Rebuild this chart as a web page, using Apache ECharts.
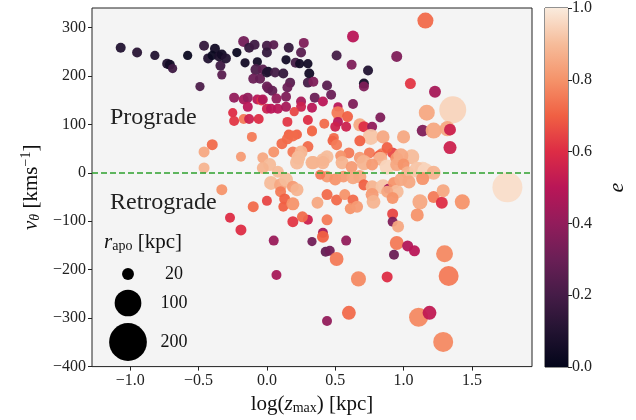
<!DOCTYPE html>
<html>
<head>
<meta charset="utf-8">
<script src="https://cdn.jsdelivr.net/npm/echarts@6/dist/echarts.min.js"></script>
<style>
  html, body { margin: 0; padding: 0; background: #fff; }
  #chart { width: 636px; height: 420px; }
</style>
</head>
<body>
<div id="chart"></div>
<script>
// log(z_max) [kpc]
const logZmax = [
  -1.07,-0.95,-0.82,-0.73,-0.71,-0.69,-0.58,-0.49,-0.46,-0.43,
  -0.38,-0.40,-0.35,-0.33,-0.34,-0.33,-0.30,-0.22,-0.17,-0.16,
  -0.13,-0.09,-0.07,-0.08,-0.03,-0.10,-0.05,0.01,0.00,0.00,
  0.05,0.00,0.16,0.27,0.25,0.14,0.21,0.24,0.30,0.51,
  0.62,0.95,0.00,0.06,0.12,0.31,0.74,0.17,0.15,0.30,
  0.34,0.44,0.71,0.71,1.05,0.01,0.04,0.63,1.16,1.23,
  -0.24,-0.17,-0.14,-0.14,-0.07,-0.04,-0.03,-0.25,-0.24,-0.17,
  -0.13,-0.06,-0.11,0.00,0.07,0.14,0.25,0.35,0.41,0.47,
  0.03,0.08,0.14,0.25,0.33,0.20,0.52,0.63,0.52,0.59,
  0.83,0.15,0.30,0.42,0.52,0.58,0.33,0.68,0.71,0.77,
  0.16,0.22,0.49,0.76,0.85,1.00,1.17,1.36,1.14,1.22,
  1.32,1.34,1.34,0.68,0.50,0.48,0.51,1.06,0.92,0.84,
  0.88,0.95,0.98,0.75,0.82,0.83,1.14,1.76,0.60,0.54,
  0.55,0.44,0.41,0.34,0.68,0.71,0.88,0.95,1.00,0.77,
  0.62,1.03,1.10,1.16,1.22,1.14,0.44,0.50,0.56,0.63,
  0.68,0.71,0.77,0.85,0.89,0.93,0.95,0.98,1.04,1.12,
  1.22,1.28,1.29,1.43,0.44,0.51,0.57,0.63,0.77,0.78,
  0.88,0.92,0.61,0.66,0.92,0.92,0.96,1.10,0.44,-0.40,
  -0.46,-0.19,-0.46,0.11,0.15,0.19,0.30,0.33,0.05,0.19,
  0.25,0.23,0.22,-0.03,0.02,-0.03,0.08,0.33,0.41,0.39,
  0.03,0.10,0.14,0.19,0.22,0.10,0.13,0.12,0.00,-0.10,
  -0.33,0.19,0.37,-0.27,-0.19,0.19,0.30,0.26,0.05,0.07,
  0.33,0.41,0.41,0.43,0.46,0.51,0.58,0.67,0.60,0.44,
  0.95,1.03,1.08,0.93,1.30,1.33,0.88,1.11,1.19,1.29
];
// v_theta [km/s]
const vTheta = [
  258,248,242,225,223,215,242,178,262,236,
  256,242,240,244,221,202,236,248,271,227,
  258,264,229,213,213,194,194,209,178,262,
  264,248,258,268,248,233,227,225,225,242,
  223,240,207,207,205,205,211,186,176,186,
  188,180,184,178,184,174,169,281,314,167,
  155,151,155,136,151,149,151,124,107,111,
  111,111,74,132,153,157,147,155,147,161,
  132,132,136,136,134,126,136,142,124,116,
  114,105,109,101,105,95,87,99,95,95,
  79,79,72,74,74,74,124,130,87,87,
  91,89,52,66,95,66,58,33,41,39,
  52,29,35,41,35,29,6,-30,41,35,
  21,33,27,21,31,21,12,17,17,17,
  12,0,6,2,0,-12,-8,-14,-8,-10,
  -8,-25,-29,-29,-33,-21,-39,-14,-19,-60,
  -50,-62,-37,-60,-45,-56,-45,-56,-45,-60,
  -39,-52,-74,-70,-85,-101,-111,-87,-97,58,
  43,33,10,60,70,76,54,85,43,43,
  43,31,21,31,17,10,2,21,21,-4,
  -21,-25,-14,-29,-35,-39,-54,-70,-58,-70,
  -35,-64,-62,-93,-118,-101,-97,-91,-140,-211,
  -142,-124,-132,-163,-161,-178,-140,-219,-289,-306,
  -145,-151,-161,-169,-167,-213,-215,-298,-289,-349
];
// eccentricity e
const ecc = [
  0.10,0.12,0.10,0.10,0.05,0.18,0.03,0.22,0.15,0.10,
  0.05,0.03,0.08,0.05,0.18,0.25,0.10,0.03,0.32,0.05,
  0.15,0.18,0.05,0.22,0.25,0.30,0.28,0.05,0.30,0.20,
  0.25,0.15,0.15,0.35,0.25,0.05,0.20,0.05,0.05,0.20,
  0.35,0.35,0.10,0.20,0.15,0.05,0.10,0.25,0.30,0.20,
  0.35,0.25,0.05,0.35,0.62,0.30,0.28,0.50,0.72,0.45,
  0.40,0.45,0.40,0.50,0.50,0.62,0.48,0.60,0.62,0.75,
  0.55,0.60,0.75,0.55,0.40,0.35,0.45,0.30,0.50,0.30,
  0.50,0.50,0.45,0.55,0.50,0.65,0.50,0.35,0.75,0.70,
  0.35,0.62,0.60,0.72,0.50,0.55,0.72,0.85,0.60,0.40,
  0.70,0.70,0.72,0.92,0.85,0.85,0.85,0.95,0.35,0.85,
  0.85,0.55,0.55,0.70,0.55,0.70,0.75,0.90,0.65,0.75,
  0.70,0.80,0.85,0.75,0.70,0.88,0.95,0.97,0.75,0.80,
  0.88,0.90,0.90,0.88,0.82,0.88,0.95,0.85,0.80,0.82,
  0.82,0.88,0.92,0.95,0.88,0.80,0.82,0.80,0.82,0.85,
  0.85,0.70,0.88,0.92,0.45,0.80,0.90,0.85,0.85,0.85,
  0.75,0.60,0.85,0.80,0.72,0.72,0.80,0.72,0.82,0.88,
  0.85,0.80,0.80,0.82,0.65,0.35,0.85,0.80,0.75,0.72,
  0.85,0.82,0.88,0.72,0.72,0.72,0.72,0.72,0.80,0.75,
  0.88,0.90,0.90,0.85,0.90,0.88,0.90,0.88,0.88,0.75,
  0.90,0.85,0.90,0.82,0.88,0.75,0.70,0.70,0.65,0.72,
  0.80,0.80,0.85,0.60,0.60,0.62,0.55,0.72,0.42,0.45,
  0.32,0.45,0.70,0.28,0.32,0.75,0.40,0.78,0.72,0.40,
  0.75,0.48,0.50,0.30,0.78,0.75,0.60,0.78,0.52,0.78
];
// r_apo [kpc]
const rApo = [
  14,14,12,14,14,12,12,12,14,14,
  14,12,14,14,14,12,14,12,17,12,
  14,14,12,17,14,14,14,12,14,14,
  12,14,14,14,14,12,14,12,12,14,
  14,17,14,14,14,14,14,14,14,14,
  14,14,14,14,17,14,14,20,36,20,
  14,14,14,14,14,14,14,12,14,14,
  14,14,14,14,14,14,14,14,14,14,
  14,14,14,14,14,12,12,14,24,17,
  14,14,14,14,14,14,14,24,17,14,
  14,14,14,36,24,24,36,102,20,36,
  32,20,24,17,14,14,17,32,17,17,
  17,24,32,17,17,27,36,126,17,17,
  24,24,24,24,20,32,32,24,20,20,
  20,24,36,40,27,24,20,20,20,24,
  24,17,24,32,14,20,27,24,24,32,
  20,20,24,32,17,17,17,17,24,27,
  20,20,17,20,17,14,20,24,17,17,
  17,14,17,17,17,17,17,14,17,17,
  24,27,27,17,24,20,20,24,24,14,
  27,24,27,20,24,17,17,14,14,17,
  17,24,20,14,17,17,14,17,14,14,
  12,14,20,14,14,27,14,32,27,14,
  27,17,17,14,40,56,17,51,27,56
];
const xTicks = [-1.0, -0.5, 0.0, 0.5, 1.0, 1.5];
const yTicks = [-400, -300, -200, -100, 0, 100, 200, 300];
const sizeLegend = [20, 100, 200];

// rocket colormap
const rocket = ['#03051a', '#221331', '#451c47', '#6a1f56', '#921c5b', '#b91657',
  '#dd2c45', '#f06043', '#f5936a', '#f6bc9a', '#faebdd'];

const serif = '"Liberation Serif", "DejaVu Serif", serif';
const sizeOf = (r) => 2.67 * Math.sqrt(r);
const minus = (s) => s.replace('-', '\u2212');

const points = logZmax.map((x, i) => [x, vTheta[i], ecc[i], rApo[i]]);

const chart = echarts.init(document.getElementById('chart'));

// legende fuer r_apo
const legendX = 128;
const legendY = [274, 303, 342];
const graphics = [
  { type: 'text', left: 110, top: 106, style: { text: 'Prograde', font: '24px ' + serif, fill: '#222' } },
  { type: 'text', left: 110, top: 191, style: { text: 'Retrograde', font: '24px ' + serif, fill: '#222' } },
  {
    type: 'text', left: 104, top: 232,
    style: {
      text: '{i|r}{s|apo}{n| [kpc]}',
      rich: {
        i: { fontFamily: serif, fontSize: 21, fontStyle: 'italic', fill: '#111' },
        s: { fontFamily: serif, fontSize: 14, fill: '#111', padding: [8, 0, 0, 0] },
        n: { fontFamily: serif, fontSize: 21, fill: '#111' }
      }
    }
  }
];
sizeLegend.forEach((v, i) => {
  graphics.push({ type: 'circle', shape: { cx: legendX, cy: legendY[i], r: sizeOf(v) / 2 }, style: { fill: '#000' } });
  graphics.push({
    type: 'text', x: 174, y: legendY[i],
    style: { text: String(v), font: '18px ' + serif, fill: '#111', align: 'center', verticalAlign: 'middle' }
  });
});

chart.setOption({
  animation: false,
  textStyle: { fontFamily: serif },
  grid: [
    { left: 92, right: 104, top: 8, bottom: 53, show: true, backgroundColor: '#f4f4f4', borderColor: '#222', borderWidth: 1 },
    { left: 545, width: 23, top: 8, bottom: 53, show: true, borderColor: '#222', borderWidth: 1 }
  ],
  xAxis: [
    {
      type: 'value', gridIndex: 0, min: -1.28, max: 1.94,
      splitLine: { show: false }, axisLine: { show: false, onZero: false },
      axisTick: { show: true, length: 4, customValues: xTicks, lineStyle: { color: '#222' } },
      axisLabel: { customValues: xTicks, color: '#222', fontSize: 16, fontFamily: serif, margin: 6,
        formatter: (v) => minus(v.toFixed(1)) },
      name: '{n|log(}{i|z}{s|max}{n|) [kpc]}',
      nameLocation: 'middle', nameGap: 22,
      nameTextStyle: {
        rich: {
          n: { fontFamily: serif, fontSize: 21, color: '#111' },
          i: { fontFamily: serif, fontSize: 21, fontStyle: 'italic', color: '#111' },
          s: { fontFamily: serif, fontSize: 14, color: '#111', padding: [8, 0, 0, 0] }
        }
      }
    },
    { type: 'category', gridIndex: 1, data: [''], show: false }
  ],
  yAxis: [
    {
      type: 'value', gridIndex: 0, min: -400, max: 340, interval: 100,
      splitLine: { show: false }, axisLine: { show: false, onZero: false },
      axisTick: { show: true, length: 4, customValues: yTicks, lineStyle: { color: '#222' } },
      axisLabel: { customValues: yTicks, color: '#222', fontSize: 16, fontFamily: serif, margin: 6,
        formatter: (v) => minus(String(v)) },
      name: '{i|v}{s|θ}{n| [kms}{p|−1}{n|]}',
      nameLocation: 'middle', nameGap: 39, nameRotate: 90,
      nameTextStyle: {
        rich: {
          n: { fontFamily: serif, fontSize: 21, color: '#111' },
          i: { fontFamily: serif, fontSize: 21, fontStyle: 'italic', color: '#111' },
          s: { fontFamily: serif, fontSize: 14, fontStyle: 'italic', color: '#111', padding: [8, 0, 0, 0] },
          p: { fontFamily: serif, fontSize: 14, color: '#111', padding: [0, 0, 10, 0] }
        }
      }
    },
    {
      type: 'value', gridIndex: 1, position: 'right', min: 0, max: 1, interval: 0.2,
      splitLine: { show: false }, axisLine: { show: false, onZero: false },
      axisTick: { show: true, length: 4, lineStyle: { color: '#222' } },
      axisLabel: { color: '#222', fontSize: 16, fontFamily: serif, margin: 4, formatter: (v) => v.toFixed(1) },
      name: 'e', nameLocation: 'middle', nameGap: 38, nameRotate: 90,
      nameTextStyle: { fontFamily: serif, fontSize: 22, fontStyle: 'italic', color: '#111' }
    }
  ],
  visualMap: {
    show: false, seriesIndex: 0, dimension: 2, min: 0, max: 1,
    inRange: { color: rocket }
  },
  graphic: graphics,
  series: [
    {
      type: 'scatter',
      xAxisIndex: 0, yAxisIndex: 0,
      data: points,
      symbolSize: (d) => sizeOf(d[3]),
      itemStyle: { opacity: 0.95 },
      markLine: {
        silent: true, symbol: 'none', label: { show: false },
        lineStyle: { color: '#2ca02c', type: [6, 3], width: 1.6 },
        data: [{ yAxis: 0 }]
      }
    },
    {
      type: 'bar', xAxisIndex: 1, yAxisIndex: 1, silent: true,
      data: [1], barWidth: '100%',
      itemStyle: {
        color: new echarts.graphic.LinearGradient(0, 1, 0, 0,
          rocket.map((c, i) => ({ offset: i / (rocket.length - 1), color: c })))
      }
    }
  ]
});
</script>
</body>
</html>
